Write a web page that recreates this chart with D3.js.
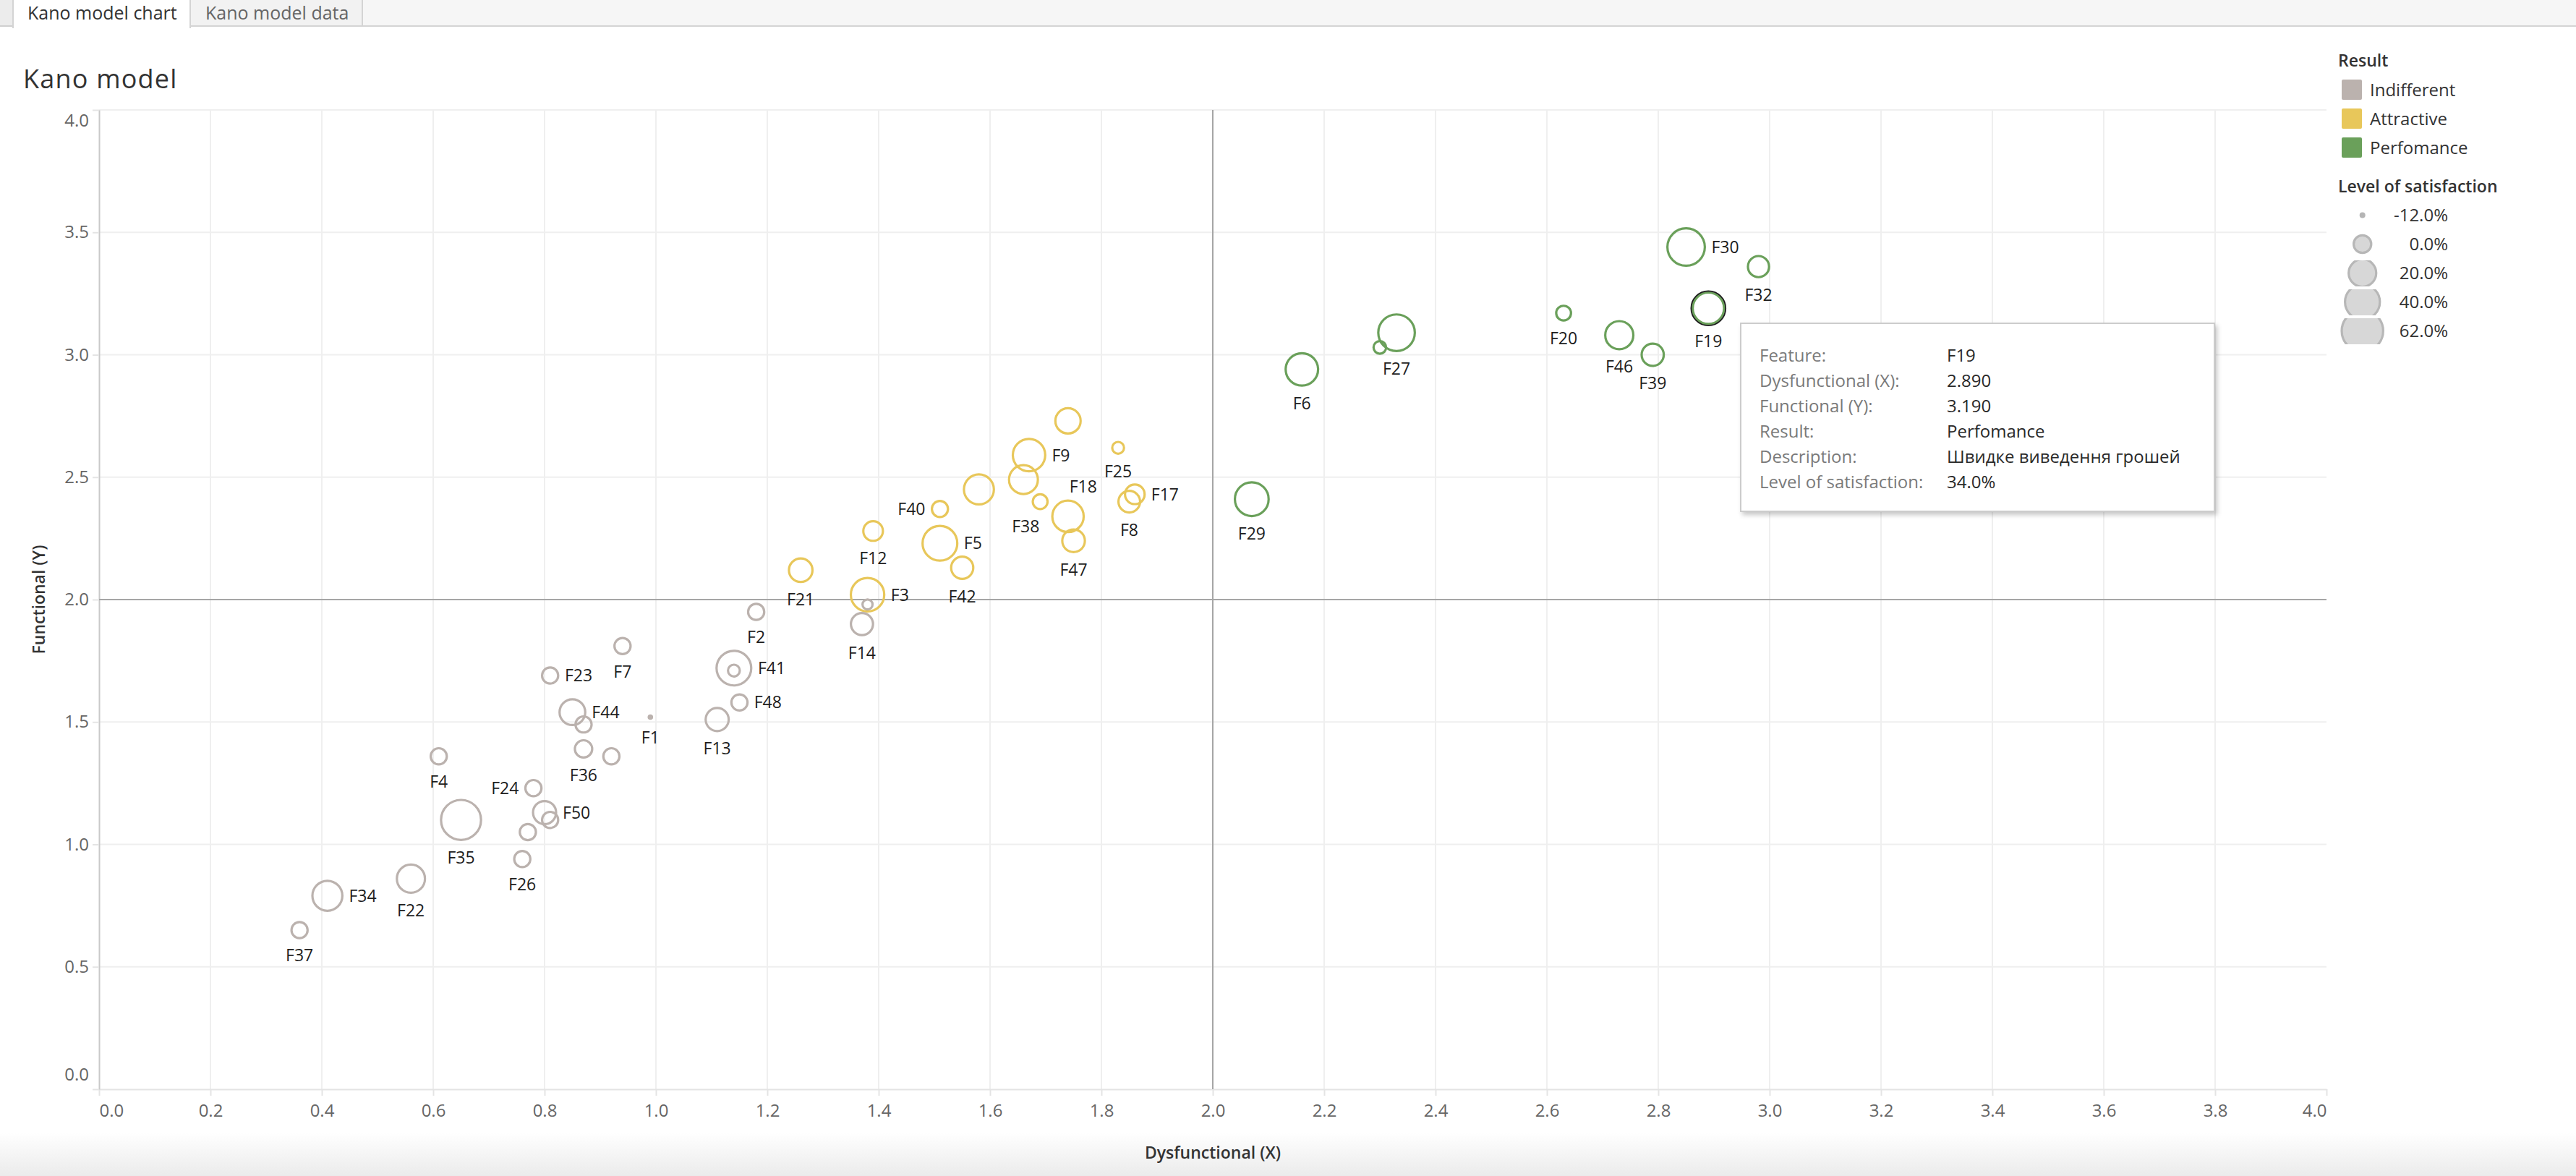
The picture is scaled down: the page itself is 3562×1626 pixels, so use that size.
<!DOCTYPE html>
<html><head><meta charset="utf-8">
<script src="https://cdn.jsdelivr.net/npm/d3@7"></script>
<style>
html,body{margin:0;padding:0;background:#fff;overflow:hidden;}
svg{display:block;font-family:"Open Sans","Noto Sans",sans-serif;}
</style></head><body>
<svg id="chart" width="3562" height="1626"></svg>
<script>
// ---------------- DATA ----------------
const features = ["F1","F2","F3","F4","F5","F6","F7","F8","F9","F10",
  "F11","F12","F13","F14","F15","F16","F17","F18","F19","F20",
  "F21","F22","F23","F24","F25","F26","F27","F28","F29","F30",
  "F31","F32","F33","F34","F35","F36","F37","F38","F39","F40",
  "F41","F42","F43","F44","F45","F46","F47","F48","F49","F50"];
const dysfunctional = [0.99,1.18,1.38,0.61,1.51,2.16,0.94,1.85,1.67,0.81,
  0.77,1.39,1.11,1.37,0.87,0.92,1.86,1.74,2.89,2.63,
  1.26,0.56,0.81,0.78,1.83,0.76,2.33,1.14,2.07,2.85,
  1.38,2.98,1.58,0.41,0.65,0.87,0.36,1.69,2.79,1.51,
  1.14,1.55,1.74,0.85,1.66,2.73,1.75,1.15,2.30,0.80];
const functional = [1.52,1.95,2.02,1.36,2.23,2.94,1.81,2.40,2.59,1.10,
  1.05,2.28,1.51,1.90,1.49,1.36,2.43,2.34,3.19,3.17,
  2.12,0.86,1.69,1.23,2.62,0.94,3.09,1.71,2.41,3.44,
  1.98,3.36,2.45,0.79,1.10,1.39,0.65,2.40,3.00,2.37,
  1.72,2.13,2.73,1.54,2.49,3.08,2.24,1.58,3.03,1.13];
const I="Indifferent", A="Attractive", P="Perfomance";
const results = [I,I,A,I,A,P,I,A,A,I,
  I,A,I,I,I,I,A,A,P,P,
  A,I,I,I,A,I,P,I,P,P,
  I,P,A,I,I,I,I,A,P,A,
  I,A,A,I,A,P,A,I,P,I];
const satisfaction = [-12,0,40,0,44,37,0,10,37,0,
  0,6,13,11,0,0,6,34,34,-2,
  14,25,0,0,-6,0,50,-6,41,53,
  -8,9,30,30,62,2,0,-2,11,0,
  44,11,18,19,27,25,12,0,-5,13];
const categories = ["Indifferent","Attractive","Perfomance"];
const xTicks = [0.0,0.2,0.4,0.6,0.8,1.0,1.2,1.4,1.6,1.8,2.0,2.2,2.4,2.6,2.8,3.0,3.2,3.4,3.6,3.8,4.0];
const yTicks = [0.0,0.5,1.0,1.5,2.0,2.5,3.0,3.5,4.0];
const sizeLegendValues = [-12,0,20,40,62];
const selectedFeature = "F19";
const selectedDescription = "Швидке виведення грошей";

// label placement (styling, not data)
const labelPlacement = {
  F37:"below",F22:"below",F4:"below",F35:"below",F26:"below",F36:"below",F7:"below",F1:"below",
  F2:"below",F13:"below",F14:"below",F21:"below",F12:"below",F42:"below",F25:"below",F47:"below",
  F8:"below",F6:"below",F27:"below",F20:"below",F29:"below",F32:"below",F19:"below",F46:"below",
  F39:"below",F38:"below",
  F34:"right",F50:"right",F44:"right",F23:"right",F41:"right",F48:"right",F3:"right",F5:"right",
  F9:"right",F17:"right",F30:"right",
  F24:"left",F40:"left",
  F18:"above"
};
const labelNudge = {F38:-20, F18:21};

// ---------------- SETUP ----------------
const W=3562,H=1626;
const svg=d3.select("#chart");
const FONT="'Open Sans', 'Noto Sans', sans-serif";
const L=137,R=3217,T=152,B=1506;
const x=d3.scaleLinear().domain([0,4]).range([L,R]);
const y=d3.scaleLinear().domain([0,4]).range([B,T]);
const color=d3.scaleOrdinal().domain(categories).range(["#bbb2ae","#e8c75a","#6aa05a"]);
const area=d3.scaleLinear().domain([-12,62]).range([28,856]);
const rOuter=v=>Math.sqrt(area(v));
const SW=3.2;
const loc=d3.formatLocale({decimal:".",thousands:",",grouping:[3],currency:["$",""],minus:"-"});

const data=features.map((f,i)=>({f,x:dysfunctional[i],y:functional[i],res:results[i],s:satisfaction[i]}));

// ---------------- DEFS ----------------
const defs=svg.append("defs");
const grad=defs.append("linearGradient").attr("id","btm").attr("x1",0).attr("y1",0).attr("x2",0).attr("y2",1);
grad.append("stop").attr("offset","0%").attr("stop-color","#ffffff");
grad.append("stop").attr("offset","100%").attr("stop-color","#ebebeb");
const sh=defs.append("filter").attr("id","sh").attr("x","-5%").attr("y","-5%").attr("width","115%").attr("height","120%");
sh.append("feDropShadow").attr("dx",3).attr("dy",4).attr("stdDeviation",3).attr("flood-color","#000").attr("flood-opacity",0.22);

// ---------------- TABS ----------------
svg.append("rect").attr("x",0).attr("y",0).attr("width",W).attr("height",36).attr("fill","#f6f6f6");
svg.append("line").attr("x1",0).attr("x2",W).attr("y1",36).attr("y2",36).attr("stroke","#d4d4d4").attr("stroke-width",2);
svg.append("rect").attr("x",-2).attr("y",-2).attr("width",20).attr("height",38).attr("fill","#ececec").attr("stroke","#cfcfcf").attr("stroke-width",2);
svg.append("rect").attr("x",263).attr("y",-2).attr("width",238).attr("height",38).attr("fill","#f2f2f2").attr("stroke","#d4d4d4").attr("stroke-width",2);
svg.append("rect").attr("x",18).attr("y",-2).attr("width",245).attr("height",40).attr("fill","#ffffff").attr("stroke","#d4d4d4").attr("stroke-width",2);
svg.append("rect").attr("x",19).attr("y",30).attr("width",243).attr("height",10).attr("fill","#ffffff");
svg.append("text").attr("x",38).attr("y",27).attr("font-size",25).attr("fill","#333").attr("font-family",FONT).text("Kano model chart");
svg.append("text").attr("x",284).attr("y",27).attr("font-size",25).attr("fill","#666").attr("font-family",FONT).text("Kano model data");

// title
svg.append("text").attr("x",32).attr("y",122).attr("font-size",36).attr("font-weight",400)
  .attr("letter-spacing",1.2).attr("fill","#333").attr("font-family",FONT).text("Kano model");

// bottom shading
svg.append("rect").attr("x",0).attr("y",1566).attr("width",W).attr("height",60).attr("fill","url(#btm)");

// ---------------- GRID ----------------
const g=svg.append("g");
g.selectAll("line.vg").data(xTicks.filter(d=>d>0&&d<4)).join("line")
  .attr("x1",d=>x(d)).attr("x2",d=>x(d)).attr("y1",T).attr("y2",B)
  .attr("stroke","#efefef").attr("stroke-width",2);
g.selectAll("line.hg").data(yTicks.filter(d=>d>0)).join("line")
  .attr("x1",L).attr("x2",R).attr("y1",d=>y(d)).attr("y2",d=>y(d))
  .attr("stroke","#efefef").attr("stroke-width",2);

// axes
const fmt=loc.format(".1f");
const xAxis=g.append("g").attr("transform",`translate(0,${B})`)
  .call(d3.axisBottom(x).tickValues(xTicks).tickFormat(fmt).tickSize(9).tickSizeOuter(0).tickPadding(12));
xAxis.select(".domain").attr("stroke","#e4e4e4").attr("stroke-width",2);
xAxis.selectAll(".tick line").attr("stroke","#e4e4e4").attr("stroke-width",2);
xAxis.selectAll(".tick text").attr("font-size",24).attr("fill","#666").attr("font-family",FONT);
xAxis.selectAll(".tick text").filter(d=>d===0).attr("text-anchor","start");
xAxis.selectAll(".tick text").filter(d=>d===4).attr("text-anchor","end");

const yAxis=g.append("g").attr("transform",`translate(${L},0)`)
  .call(d3.axisLeft(y).tickValues(yTicks).tickFormat(fmt).tickSize(9).tickSizeOuter(0).tickPadding(5));
yAxis.select(".domain").attr("stroke","#c9c9c9").attr("stroke-width",2);
yAxis.selectAll(".tick line").attr("stroke","#e4e4e4").attr("stroke-width",2);
yAxis.selectAll(".tick text").attr("font-size",24).attr("fill","#666").attr("font-family",FONT);
yAxis.selectAll(".tick text").filter(d=>d===4).attr("transform","translate(0,15)");
yAxis.selectAll(".tick text").filter(d=>d===0).attr("transform","translate(0,-20)");

// axis titles
svg.append("text").attr("x",(L+R)/2).attr("y",1602).attr("text-anchor","middle").attr("font-size",23)
  .attr("font-weight",600).attr("fill","#333").attr("font-family",FONT).text("Dysfunctional (X)");
svg.append("text").attr("transform",`translate(62,${(T+B)/2}) rotate(-90)`).attr("text-anchor","middle")
  .attr("font-size",23).attr("font-weight",600).attr("fill","#333").attr("font-family",FONT).text("Functional (Y)");

// reference lines
g.append("line").attr("x1",x(2)).attr("x2",x(2)).attr("y1",T).attr("y2",B).attr("stroke","#a6a6a6").attr("stroke-width",2);
g.append("line").attr("x1",L).attr("x2",R).attr("y1",y(2)).attr("y2",y(2)).attr("stroke","#a6a6a6").attr("stroke-width",2);

// ---------------- MARKS ----------------
const marks=svg.append("g");
const sorted=data.slice().sort((a,b)=>b.s-a.s);
marks.selectAll("circle.m").data(sorted).join("circle")
  .attr("cx",d=>x(d.x)).attr("cy",d=>y(d.y))
  .attr("r",d=>rOuter(d.s)<6?3.8:rOuter(d.s)-SW/2)
  .attr("fill",d=>rOuter(d.s)<6?color(d.res):"none")
  .attr("stroke",d=>rOuter(d.s)<6?"none":color(d.res))
  .attr("stroke-width",SW);
// selection ring
const sel=data.find(d=>d.f===selectedFeature);
marks.append("circle").attr("cx",x(sel.x)).attr("cy",y(sel.y)).attr("r",rOuter(sel.s)+0.6)
  .attr("fill","none").attr("stroke","#1b1b1b").attr("stroke-width",1.8);

// labels
const lab=svg.append("g").attr("font-family",FONT).attr("font-size",23).attr("fill","#1e1e1e");
data.filter(d=>labelPlacement[d.f]).forEach(d=>{
  const cx=x(d.x),cy=y(d.y),r=Math.max(rOuter(d.s),3.8),p=labelPlacement[d.f],dx=labelNudge[d.f]||0;
  const t=lab.append("text").attr("dy","0.36em").text(d.f);
  if(p==="below") t.attr("x",cx+dx).attr("y",cy+r+22.5).attr("text-anchor","middle");
  else if(p==="above") t.attr("x",cx+dx).attr("y",cy-r-18).attr("text-anchor","middle");
  else if(p==="right") t.attr("x",cx+r+7.5).attr("y",cy).attr("text-anchor","start");
  else if(p==="left") t.attr("x",cx-r-7.5).attr("y",cy).attr("text-anchor","end");
});

// ---------------- LEGEND ----------------
const lg=svg.append("g").attr("font-family",FONT);
lg.append("text").attr("x",3233).attr("y",91.5).attr("font-size",23).attr("font-weight",600).attr("fill","#333").text("Result");
categories.forEach((c,i)=>{
  const cy=124+40*i;
  lg.append("rect").attr("x",3238).attr("y",cy-14).attr("width",28).attr("height",28).attr("rx",2).attr("fill",color(c));
  lg.append("text").attr("x",3277).attr("y",cy).attr("dy","0.36em").attr("font-size",24).attr("fill","#333").text(c);
});
lg.append("text").attr("x",3233).attr("y",265.8).attr("font-size",23).attr("font-weight",600).attr("fill","#333").text("Level of satisfaction");
sizeLegendValues.forEach((v,i)=>{
  const cy=297.5+40*i;
  const id="lc"+i;
  defs.append("clipPath").attr("id",id).append("rect").attr("x",3220).attr("y",cy-17.5).attr("width",100).attr("height",36);
  const ro=rOuter(v)+1;
  if(ro<7){
    lg.append("circle").attr("cx",3266.7).attr("cy",cy).attr("r",4).attr("fill","#b5b5b5");
  } else {
    lg.append("circle").attr("clip-path",`url(#${id})`).attr("cx",3266.7).attr("cy",cy).attr("r",ro-1.6)
      .attr("fill","#d7d7d7").attr("stroke","#b7b7b7").attr("stroke-width",3.2);
  }
  lg.append("text").attr("x",3385).attr("y",cy).attr("dy","0.36em").attr("text-anchor","end")
    .attr("font-size",24).attr("fill","#333").text(loc.format(".1f")(v)+"%");
});

// ---------------- TOOLTIP ----------------
const idx=features.indexOf(selectedFeature);
const tt=svg.append("g").attr("font-family",FONT).attr("font-size",24);
tt.append("rect").attr("x",2407).attr("y",447).attr("width",655).attr("height",260)
  .attr("fill","#fff").attr("stroke","#cccccc").attr("stroke-width",2).attr("filter","url(#sh)");
const rows=[["Feature:",features[idx]],["Dysfunctional (X):",loc.format(".3f")(dysfunctional[idx])],
  ["Functional (Y):",loc.format(".3f")(functional[idx])],["Result:",results[idx]],
  ["Description:",selectedDescription],["Level of satisfaction:",loc.format(".1f")(satisfaction[idx])+"%"]];
rows.forEach((r,i)=>{
  const cy=491.7+35*i;
  tt.append("text").attr("x",2433).attr("y",cy).attr("dy","0.36em").attr("fill","#7a7a7a").text(r[0]);
  tt.append("text").attr("x",2692).attr("y",cy).attr("dy","0.36em").attr("fill","#2a2a2a").text(r[1]);
});
</script>
</body></html>
